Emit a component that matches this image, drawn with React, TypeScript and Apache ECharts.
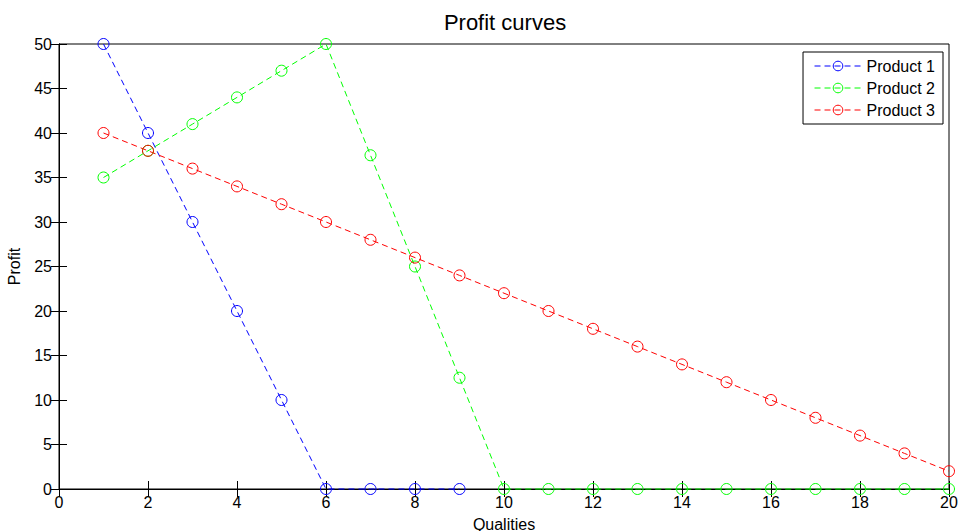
import React, { useEffect, useRef } from "react";
import * as echarts from "echarts";

const xs = [1, 2, 3, 4, 5, 6, 7, 8, 9, 10, 11, 12, 13, 14, 15, 16, 17, 18, 19, 20];
const product1 = [50, 40, 30, 20, 10, 0, 0, 0, 0];
const product2 = [35, 38, 41, 44, 47, 50, 37.5, 25, 12.5, 0, 0, 0, 0, 0, 0, 0, 0, 0, 0, 0];
const product3 = [40, 38, 36, 34, 32, 30, 28, 26, 24, 22, 20, 18, 16, 14, 12, 10, 8, 6, 4, 2];
const seriesNames = ["Product 1", "Product 2", "Product 3"];
const colors = ["#0000ff", "#00ff00", "#ff0000"];

const FONT = "Liberation Sans, Arial, Helvetica, sans-serif";

export default function App() {
  const ref = useRef<HTMLDivElement>(null);
  useEffect(() => {
    if (!ref.current) return;
    const chart = echarts.init(ref.current, undefined, { renderer: "svg" });
    const datasets = [product1, product2, product3];
    const axisLine = { show: true, lineStyle: { color: "#000", width: 1 } };
    const tick = { show: true, inside: true, length: 8, lineStyle: { color: "#000", width: 1 } };
    chart.setOption({
      animation: false,
      backgroundColor: "#fff",
      textStyle: { fontFamily: FONT },
      title: {
        text: "Profit curves",
        left: 500,
        top: 6,
        textAlign: "center",
        textStyle: { fontFamily: FONT, fontSize: 22, fontWeight: "normal", color: "#000" },
      },
      grid: {
        left: 59, right: 12, top: 44, bottom: 42,
        outerBoundsMode: "none", containLabel: false,
        show: true, borderColor: "#000", borderWidth: 1, backgroundColor: "#fff",
      },
      legend: {
        orient: "vertical",
        right: 18,
        top: 52,
        data: seriesNames,
        backgroundColor: "#fff",
        borderColor: "#000",
        borderWidth: 1,
        borderRadius: 0,
        padding: [6, 8, 6, 11],
        itemGap: 6,
        itemWidth: 47,
        itemHeight: 12,
        lineStyle: { width: 1, type: [6, 4] },
        itemStyle: { borderWidth: 1 },
        textStyle: { fontFamily: FONT, fontSize: 16, color: "#000" },
      },
      xAxis: [
        {
          type: "value", min: 0, max: 20, interval: 2,
          name: "Qualities", nameLocation: "middle", nameGap: 27,
          nameTextStyle: { fontFamily: FONT, fontSize: 16, color: "#000" },
          axisLine, axisTick: tick,
          axisLabel: { fontFamily: FONT, fontSize: 16, color: "#000", margin: 5 },
          splitLine: { show: false },
        },
        {
          type: "value", min: 0, max: 20, interval: 2, position: "top",
          axisLine, axisTick: tick,
          axisLabel: { show: false }, splitLine: { show: false },
        },
      ],
      yAxis: [
        {
          type: "value", min: 0, max: 50, interval: 5,
          name: "Profit", nameLocation: "middle", nameGap: 37,
          nameTextStyle: { fontFamily: FONT, fontSize: 16, color: "#000" },
          axisLine, axisTick: tick,
          axisLabel: { fontFamily: FONT, fontSize: 16, color: "#000", margin: 7 },
          splitLine: { show: false },
        },
        {
          type: "value", min: 0, max: 50, interval: 5, position: "right",
          axisLine, axisTick: tick,
          axisLabel: { show: false }, splitLine: { show: false },
        },
      ],
      series: datasets.map((d, i) => ({
        name: seriesNames[i],
        type: "line",
        xAxisIndex: 0,
        yAxisIndex: 0,
        data: d.map((v, j) => [xs[j], v]),
        symbol: "circle",
        symbolSize: 11,
        showAllSymbol: true,
        clip: false,
        z: 3,
        lineStyle: { color: colors[i], width: 1, type: [6, 4] },
        itemStyle: { color: "transparent", borderColor: colors[i], borderWidth: 1 },
      })),
    });
    return () => chart.dispose();
  }, []);
  return <div ref={ref} style={{ width: 961, height: 531, position: "absolute", left: 0, top: 0 }} />;
}
